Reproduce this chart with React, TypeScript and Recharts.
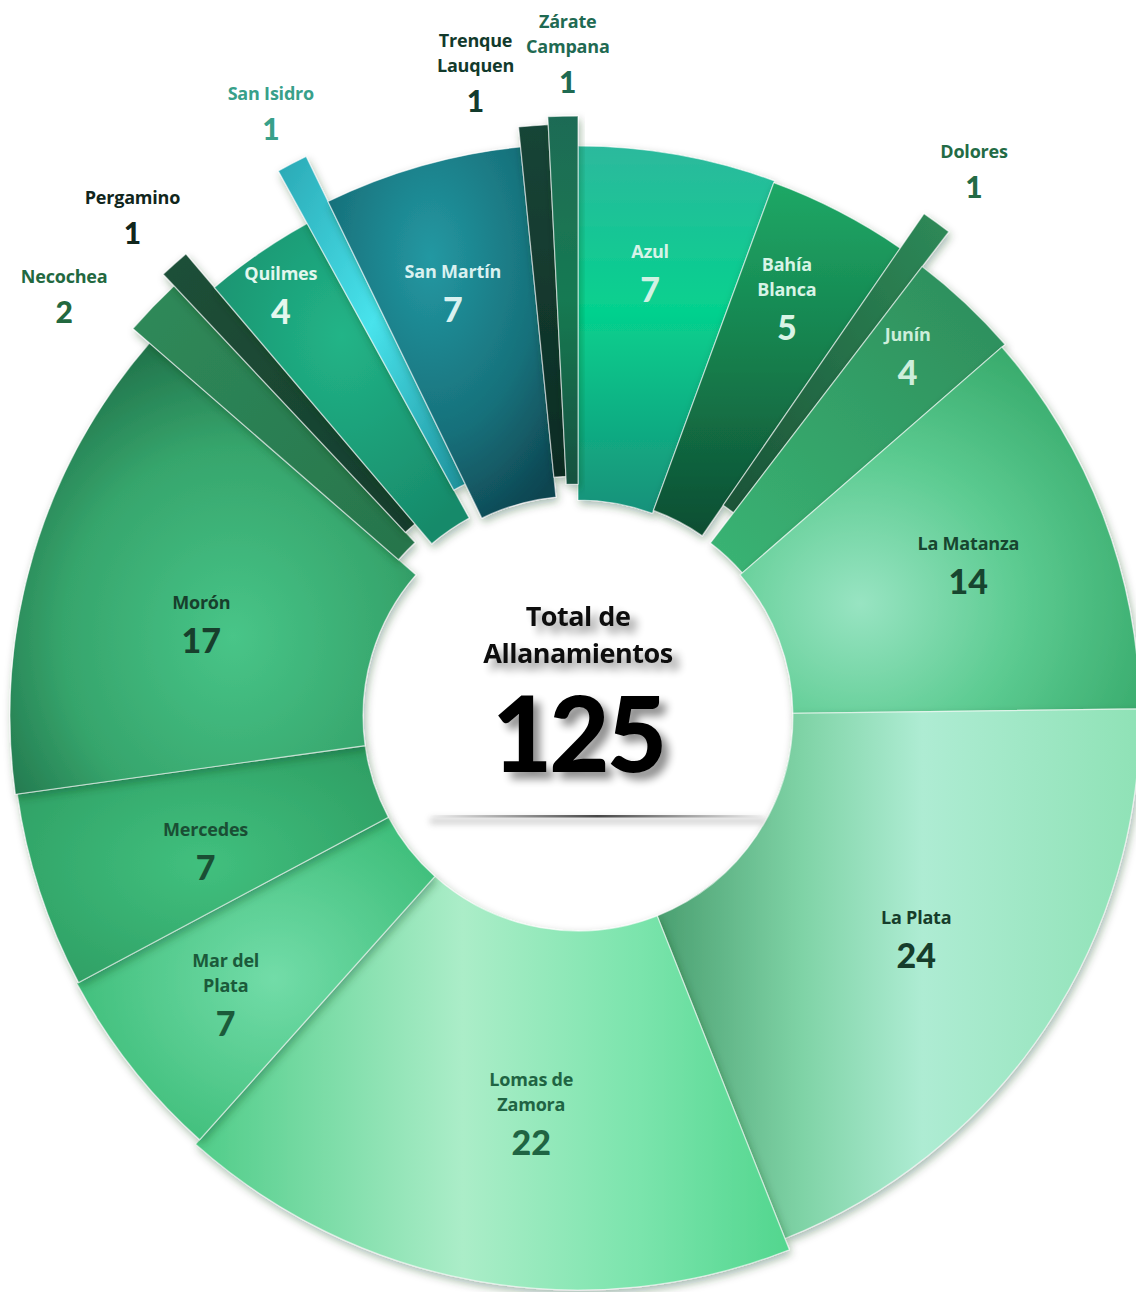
import React from 'react';
import { PieChart, Pie, Cell } from 'recharts';

// ---------- data ----------
const districts = [
  'Azul', 'Bahía Blanca', 'Dolores', 'Junín', 'La Matanza', 'La Plata',
  'Lomas de Zamora', 'Mar del Plata', 'Mercedes', 'Morón', 'Necochea',
  'Pergamino', 'Quilmes', 'San Isidro', 'San Martín', 'Trenque Lauquen', 'Zárate Campana',
];
const raids = [7, 5, 1, 4, 14, 24, 22, 7, 7, 17, 2, 1, 4, 1, 7, 1, 1];
const centerTitle = ['Total de', 'Allanamientos'];

const data = districts.map((name, i) => ({ name, value: raids[i] }));
const total = raids.reduce((a, b) => a + b, 0);

// ---------- styles ----------
const W = 1136;
const H = 1292;
const CX = 578;
const CY = 716;
const NAME_FONT = "'Open Sans', Lato, 'DejaVu Sans', sans-serif";
const NUM_FONT = "Lato, 'Open Sans', 'DejaVu Sans', sans-serif";

type Grad = {
  type: 'l' | 'r';
  x1?: number; y1?: number; x2?: number; y2?: number;
  cx?: number; cy?: number; r?: number;
  stops: [number, string][];
};
type St = {
  ir: number; or: number;
  lr: number; lo: number;
  lines: string[];
  outside?: boolean;
  nameColor: string; valColor: string;
  grad: Grad;
};

const sliceStyle: Record<string, St> = {
  'Azul': { ir: 216, or: 570, lr: 420, lo: -0.2, lines: ['Azul'], nameColor: '#d6f3e8', valColor: '#d0f2e4',
    grad: { type: 'l', x1: 0, y1: 0, x2: 0, y2: 1, stops: [[0, '#2db99d'], [0.45, '#05d18e'], [1, '#18917a']] } },
  'Bahía Blanca': { ir: 219, or: 568, lr: 430, lo: 1.7, lines: ['Bahía', 'Blanca'], nameColor: '#d8f4e6', valColor: '#d8f4e6',
    grad: { type: 'l', x1: 0, y1: 0, x2: 0, y2: 1, stops: [[0, '#1fa866'], [0.45, '#15834f'], [1, '#0e4d32']] } },
  'Dolores': { ir: 256, or: 610, lr: 652, lo: 1.4, lines: ['Dolores'], outside: true, nameColor: '#236b45', valColor: '#236b45',
    grad: { type: 'l', x1: 1, y1: 0, x2: 0, y2: 1, stops: [[0, '#2e8a58'], [1, '#1b5337']] } },
  'Junín': { ir: 218, or: 566, lr: 467, lo: 1.7, lines: ['Junín'], nameColor: '#cdeedb', valColor: '#cdeedb',
    grad: { type: 'l', x1: 1, y1: 0, x2: 0, y2: 1, stops: [[0, '#2d8c5b'], [1, '#3ab474']] } },
  'La Matanza': { ir: 215, or: 562, lr: 409, lo: 3.5, lines: ['La Matanza'], nameColor: '#17452f', valColor: '#17452f',
    grad: { type: 'r', cx: 0.3, cy: 0.7, r: 0.8, stops: [[0, '#98e4c2'], [0.5, '#5ccb91'], [1, '#36a96a']] } },
  'La Plata': { ir: 215, or: 562, lr: 422, lo: 2.9, lines: ['La Plata'], nameColor: '#163d2b', valColor: '#163d2b',
    grad: { type: 'l', x1: 0, y1: 0, x2: 1, y2: 0, stops: [[0, '#4a9f70'], [0.3, '#7fd3a6'], [0.55, '#aeecd3'], [1, '#8fe2b6']] } },
  'Lomas de Zamora': { ir: 215, or: 574, lr: 441, lo: -4, lines: ['Lomas de', 'Zamora'], nameColor: '#1f6443', valColor: '#1f6443',
    grad: { type: 'l', x1: 0, y1: 0, x2: 1, y2: 0, stops: [[0, '#4fcc88'], [0.45, '#abedc8'], [0.75, '#7ae4ac'], [1, '#52d68e']] } },
  'Mar del Plata': { ir: 215, or: 568, lr: 476, lo: -4.1, lines: ['Mar del', 'Plata'], nameColor: '#1b5a3a', valColor: '#1b5a3a',
    grad: { type: 'r', cx: 0.55, cy: 0.5, r: 0.6, stops: [[0, '#72dca8'], [1, '#3dbd79']] } },
  'Mercedes': { ir: 215, or: 566, lr: 407, lo: -5.8, lines: ['Mercedes'], nameColor: '#1a4e34', valColor: '#1a4e34',
    grad: { type: 'r', cx: 0.5, cy: 0.5, r: 0.7, stops: [[0, '#41c07e'], [1, '#2c9b61']] } },
  'Morón': { ir: 215, or: 568, lr: 382, lo: -7, lines: ['Morón'], nameColor: '#173f2c', valColor: '#173f2c',
    grad: { type: 'r', cx: 0.55, cy: 0.65, r: 0.7, stops: [[0, '#48c588'], [0.6, '#36a56c'], [1, '#1f6f48']] } },
  'Necochea': { ir: 238, or: 590, lr: 647, lo: -6.5, lines: ['Necochea'], outside: true, nameColor: '#22683f', valColor: '#22683f',
    grad: { type: 'l', x1: 1, y1: 1, x2: 0, y2: 0, stops: [[0, '#27744b'], [1, '#2f8a5a']] } },
  'Pergamino': { ir: 252, or: 606, lr: 649, lo: -1.6, lines: ['Pergamino'], outside: true, nameColor: '#10261c', valColor: '#10261c',
    grad: { type: 'l', x1: 1, y1: 1, x2: 0, y2: 0, stops: [[0, '#163d2d'], [1, '#1d5038']] } },
  'Quilmes': { ir: 226, or: 562, lr: 492, lo: -2.6, lines: ['Quilmes'], nameColor: '#e3f7ee', valColor: '#e3f7ee',
    grad: { type: 'r', cx: 0.5, cy: 0.35, r: 0.7, stops: [[0, '#22b487'], [1, '#178a6a']] } },
  'San Isidro': { ir: 258, or: 622, lr: 653, lo: -0.7, lines: ['San Isidro'], outside: true, nameColor: '#38a08a', valColor: '#38a08a',
    grad: { type: 'l', x1: 0, y1: 0, x2: 1, y2: 1, stops: [[0, '#2aa8b4'], [0.5, '#48e3ec'], [1, '#1d8f99']] } },
  'San Martín': { ir: 220, or: 572, lr: 413, lo: -1.8, lines: ['San Martín'], nameColor: '#d9f1f0', valColor: '#d9f1f0',
    grad: { type: 'r', cx: 0.45, cy: 0.3, r: 0.8, stops: [[0, '#2398a2'], [0.6, '#17707a'], [1, '#0e4450']] } },
  'Trenque Lauquen': { ir: 240, or: 592, lr: 613, lo: -5.3, lines: ['Trenque', 'Lauquen'], outside: true, nameColor: '#123a2c', valColor: '#123a2c',
    grad: { type: 'l', x1: 0, y1: 0, x2: 0, y2: 1, stops: [[0, '#174537'], [1, '#0d2b23']] } },
  'Zárate Campana': { ir: 232, or: 600, lr: 623, lo: 0.5, lines: ['Zárate', 'Campana'], outside: true, nameColor: '#1f6a52', valColor: '#1f6a52',
    grad: { type: 'l', x1: 0, y1: 0, x2: 0, y2: 1, stops: [[0, '#1f6b54'], [0.5, '#177a52'], [1, '#145140']] } },
};

const RAD = Math.PI / 180;

function renderLabel(props: any) {
  const { cx, cy, midAngle, index } = props;
  const d = data[index];
  const st = sliceStyle[d.name];
  const theta = (90 - midAngle + st.lo) * RAD;
  const x = cx + st.lr * Math.sin(theta);
  const y = cy - st.lr * Math.cos(theta);
  const gap = st.outside ? 40 : 44;
  const n = st.lines.length;
  return (
    <g key={`lbl-${index}`}>
      {st.lines.map((ln, k) => (
        <text
          key={k}
          x={x}
          y={y - gap - (n - 1 - k) * 25}
          textAnchor="middle"
          fontFamily={NAME_FONT}
          fontWeight={700}
          fontSize={18}
          letterSpacing={-0.2}
          fill={st.nameColor}
        >
          {ln}
        </text>
      ))}
      <text
        x={x}
        y={y}
        textAnchor="middle"
        fontFamily={NUM_FONT}
        fontWeight={900}
        fontSize={st.outside ? 30 : 34}
        fill={st.valColor}
      >
        {d.value}
      </text>
    </g>
  );
}

function Defs() {
  return (
    <svg width={0} height={0} style={{ position: 'absolute' }}>
      <defs>
        {districts.map((name, i) => {
          const g = sliceStyle[name].grad;
          const stops = g.stops.map(([o, c], k) => <stop key={k} offset={o} stopColor={c} />);
          return g.type === 'l' ? (
            <linearGradient key={i} id={`g${i}`} x1={g.x1} y1={g.y1} x2={g.x2} y2={g.y2}>
              {stops}
            </linearGradient>
          ) : (
            <radialGradient key={i} id={`g${i}`} cx={g.cx} cy={g.cy} r={g.r}>
              {stops}
            </radialGradient>
          );
        })}
        <filter id="sliceShadow" x="-20%" y="-20%" width="140%" height="140%">
          <feDropShadow dx="2" dy="4" stdDeviation="4" floodColor="#0b3a22" floodOpacity="0.35" />
        </filter>
        <filter id="textShadow" x="-30%" y="-30%" width="160%" height="160%">
          <feGaussianBlur in="SourceAlpha" stdDeviation="4" result="b" />
          <feOffset in="b" dx="7" dy="7" result="o" />
          <feComponentTransfer in="o" result="s">
            <feFuncA type="linear" slope="0.45" />
          </feComponentTransfer>
          <feMerge>
            <feMergeNode in="s" />
            <feMergeNode in="SourceGraphic" />
          </feMerge>
        </filter>
        <filter id="lineBlur" x="-10%" y="-200%" width="120%" height="500%">
          <feGaussianBlur stdDeviation="3" />
        </filter>
        <linearGradient id="lineGrad" x1="0" y1="0" x2="1" y2="0">
          <stop offset="0" stopColor="#333" stopOpacity="0" />
          <stop offset="0.5" stopColor="#333" stopOpacity="0.9" />
          <stop offset="1" stopColor="#333" stopOpacity="0" />
        </linearGradient>
      </defs>
    </svg>
  );
}

export default function App() {
  return (
    <div style={{ position: 'absolute', left: 0, top: 0, width: W, height: H, background: '#fff' }}>
      <Defs />
      <PieChart width={W} height={H} margin={{ top: 0, right: 0, bottom: 0, left: 0 }}>
        {districts.map((name, i) => {
          const st = sliceStyle[name];
          return (
            <Pie
              key={name}
              data={data}
              dataKey="value"
              nameKey="name"
              cx={CX}
              cy={CY}
              startAngle={90}
              endAngle={-270}
              innerRadius={st.ir}
              outerRadius={st.or}
              isAnimationActive={false}
              stroke="none"
              labelLine={false}
              label={false}
            >
              {data.map((d, j) => (
                <Cell
                  key={j}
                  fill={j === i ? `url(#g${i})` : 'transparent'}
                  stroke={j === i ? 'rgba(255,255,255,0.55)' : 'none'}
                  strokeWidth={j === i ? 1.2 : 0}
                  filter={j === i ? 'url(#sliceShadow)' : undefined}
                />
              ))}
            </Pie>
          );
        })}
        <Pie
          data={data}
          dataKey="value"
          nameKey="name"
          cx={CX}
          cy={CY}
          startAngle={90}
          endAngle={-270}
          innerRadius={215}
          outerRadius={570}
          isAnimationActive={false}
          stroke="none"
          fill="transparent"
          labelLine={false}
          label={renderLabel}
        >
          {data.map((d, j) => (
            <Cell key={j} fill="transparent" stroke="none" />
          ))}
        </Pie>
      </PieChart>
      <svg width={W} height={H} style={{ position: 'absolute', left: 0, top: 0, pointerEvents: 'none' }}>
        <g filter="url(#textShadow)">
          <text x={CX} y={626} textAnchor="middle" fontFamily={NAME_FONT} fontWeight={700} fontSize={27} letterSpacing={-0.5} fill="#111">
            {centerTitle[0]}
          </text>
          <text x={CX} y={663} textAnchor="middle" fontFamily={NAME_FONT} fontWeight={700} fontSize={27} letterSpacing={-0.5} fill="#111">
            {centerTitle[1]}
          </text>
          <text x={CX} y={772} textAnchor="middle" fontFamily={NUM_FONT} fontWeight={900} fontSize={104} letterSpacing={-3} fill="#000">
            {total}
          </text>
        </g>
        <rect x={430} y={818} width={335} height={6} fill="#777" opacity={0.35} filter="url(#lineBlur)" />
        <rect x={430} y={815} width={335} height={2.5} fill="url(#lineGrad)" />
      </svg>
    </div>
  );
}
